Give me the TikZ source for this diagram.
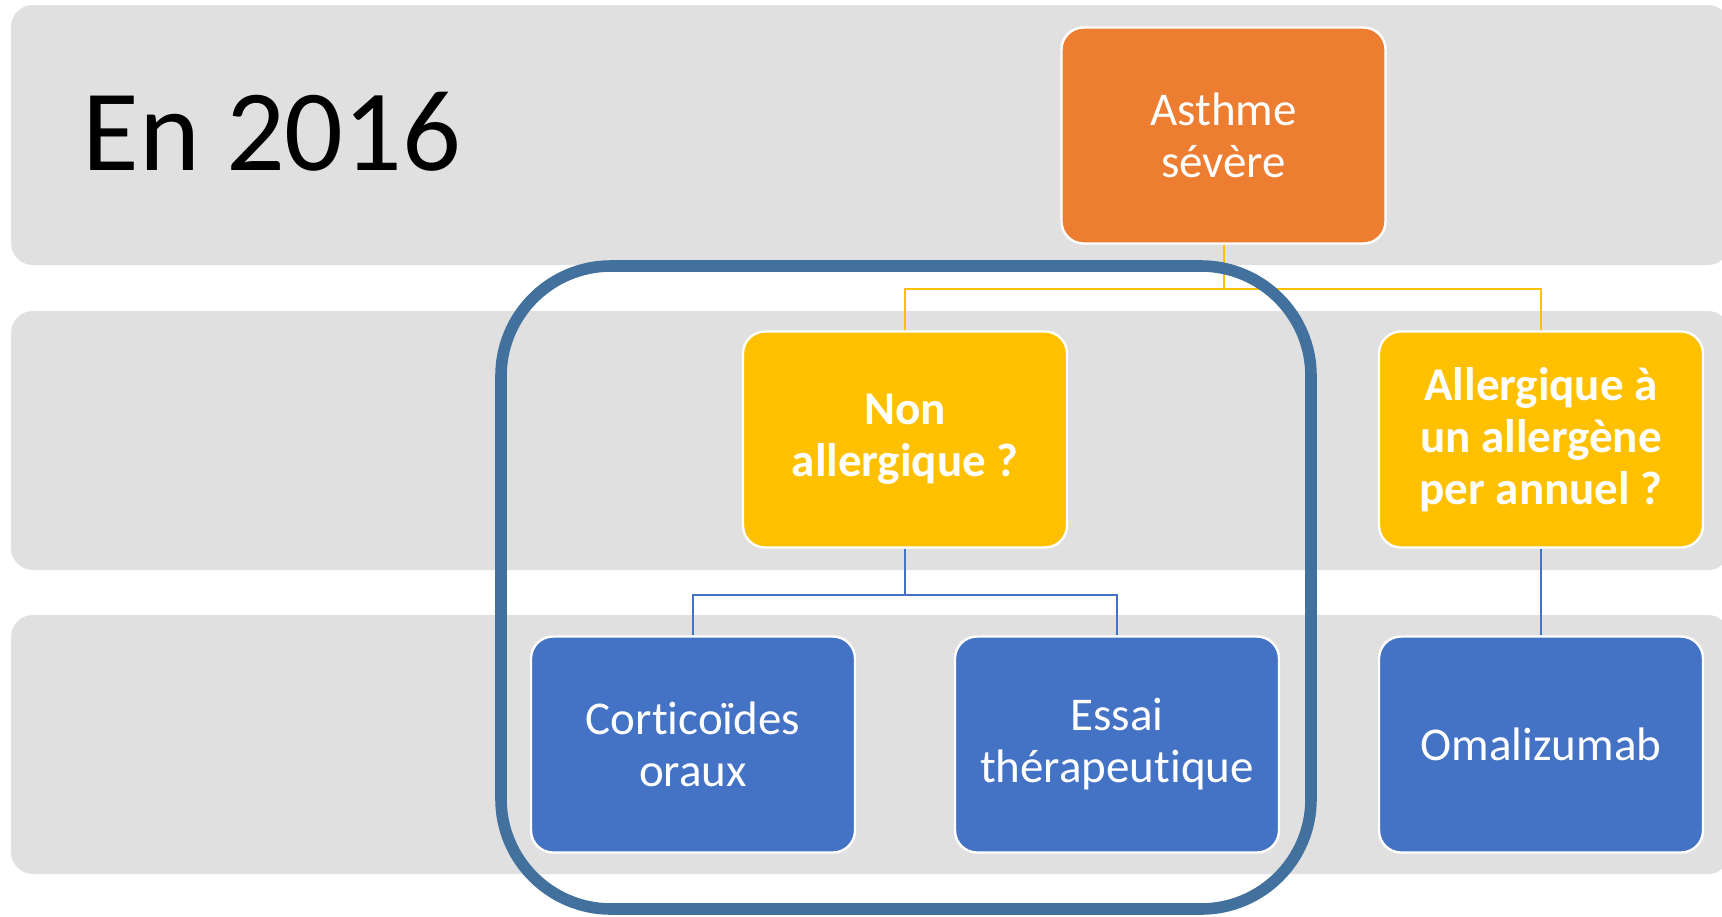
\documentclass[tikz,border=0pt]{standalone}
\usepackage{fontspec}
\setmainfont{Carlito}[Ligatures=NoCommon]
\definecolor{bandgray}{HTML}{E0E0E0}
\definecolor{asthmeorange}{HTML}{ED7D31}
\definecolor{questionyellow}{HTML}{FFC000}
\definecolor{treatblue}{HTML}{4472C4}
\definecolor{framesteel}{HTML}{41719C}
\begin{document}
\begin{tikzpicture}[
    x=0.5pt, y=-0.5pt,
    band/.style={fill=bandgray, draw=none, rounded corners=11pt},
    box/.style={draw=white, line width=1.2pt, rounded corners=11pt, minimum width=162pt,
        minimum height=108pt, align=center, text=white, inner sep=2pt,
        font=\fontsize{23.5pt}{26pt}\selectfont},
    asthme/.style={box, fill=asthmeorange},
    question/.style={box, fill=questionyellow, font=\fontsize{23.5pt}{26pt}\selectfont\bfseries},
    traitement/.style={box, fill=treatblue},
    yellink/.style={questionyellow, line width=1pt},
    bluelink/.style={treatblue, line width=1pt},
    groupe/.style={framesteel, line width=5.8pt, rounded corners=55pt}
]
\useasboundingbox (0,0) rectangle (1722,916);

% background bands
\fill[band] (11,5) rectangle (1730,265);
\fill[band] (11,311) rectangle (1730,570);
\fill[band] (11,615) rectangle (1730,874);

\node[anchor=base west, inner sep=0pt, font=\fontsize{58pt}{70pt}\selectfont] (annee) at (82,170) {En 2016};

\node[asthme] (A) at (1223.5,135.5) {Asthme\\sévère};

\node[question] (N) at (905,439.5) {Non\\allergique ?};
\node[question] (P) at (1541,439.5) {Allergique à\\un allergène\\per annuel ?};

\node[traitement] (C) at (693,744.5) {Corticoïdes\\oraux};
\node[traitement] (E) at (1117,744.5) {Essai\\thérapeutique};
\node[traitement] (O) at (1541,744.5) {Omalizumab};

\draw[yellink] (A.south) -- ++(0,44) -| (N.north);
\draw[yellink] (A.south) -- ++(0,44) -| (P.north);
\draw[bluelink] (N.south) -- ++(0,46) -| (C.north);
\draw[bluelink] (N.south) -- ++(0,46) -| (E.north);
\draw[bluelink] (P.south) -- (O.north);

% non allergic branch
\draw[groupe] (501,266) rectangle (1311,909);
\end{tikzpicture}
\end{document}
